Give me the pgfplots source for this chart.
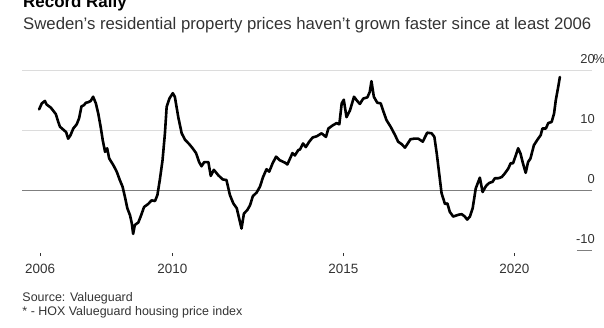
\documentclass[border=0pt]{standalone}
\usepackage{fontspec}
\setmainfont{Liberation Sans}
\usepackage{pgfplots}
\pgfplotsset{compat=1.18}
\definecolor{txt}{HTML}{333333}
\definecolor{gridc}{HTML}{DCDCDC}
\definecolor{zeroc}{HTML}{7F7F7F}
\begin{document}
\begin{tikzpicture}[x=1bp,y=1bp]
\path[use as bounding box] (0,0) rectangle (604,327);
\node[anchor=base west, inner sep=0pt, font=\fontsize{17}{20}\selectfont\bfseries] at (23,320) {Record Rally};
\node[anchor=base west, inner sep=0pt, text=txt, font=\fontsize{16.8}{20}\selectfont] at (23,298) {Sweden's residential property prices haven't grown faster since at least 2006};
\node[anchor=base west, inner sep=0pt, text=txt, font=\fontsize{12.5}{15}\selectfont] at (22.3,25.3) {Source: Valueguard};
\node[anchor=base west, inner sep=0pt, text=txt, font=\fontsize{12.5}{15}\selectfont] at (22.3,12) {* - HOX Valueguard housing price index};
\begin{axis}[
  at={(22bp,73.9bp)}, anchor=south west,
  scale only axis, width=570bp, height=182.1bp,
  xmin=2005.6, xmax=2022.27, ymin=-10.4, ymax=20,
  axis line style={draw=none},
  clip=false,
  /pgf/number format/assume math mode=true,
  xtick={2006.13,2010,2015,2020},
  xticklabels={2006,2010,2015,2020},
  xtick pos=bottom,
  tick align=outside,
  major tick length=3bp,
  xtick style={draw=txt, line width=0.8bp},
  xticklabel style={text=txt, font=\fontsize{13.5}{16}\selectfont, anchor=base, inner sep=0pt, yshift=-17.4bp},
  ytick={-10,0,10,20},
  yticklabels={-10,0,10,20\rlap{\kern-1.5bp\%}},
  ytick style={draw=none},
  yticklabel pos=right,
  yticklabel style={text=txt, font=\fontsize{13}{16}\selectfont, anchor=base east, inner sep=0pt, yshift=7.3bp},
]
\draw[gridc, line width=1bp] (axis cs:2005.6,10) -- (axis cs:2022.27,10);
\draw[gridc, line width=1bp] (axis cs:2005.6,20) -- (axis cs:2022.27,20);
\draw[zeroc, line width=1bp] (axis cs:2005.6,0) -- (axis cs:2022.27,0);
\draw[zeroc, line width=1bp] (axis cs:2021.83,-10) -- (axis cs:2022.27,-10);
\addplot[black, line width=2.6bp, line join=round, line cap=round] coordinates {
(2006.10,13.6) (2006.18,14.6) (2006.27,15.0) (2006.32,14.4) (2006.44,13.9) (2006.51,13.4)
(2006.59,12.8) (2006.66,11.5) (2006.71,10.7) (2006.81,10.2) (2006.89,9.8) (2006.95,8.7)
(2007.02,9.3) (2007.10,10.4) (2007.20,11.1) (2007.27,12.1) (2007.34,14.1) (2007.41,14.3)
(2007.47,14.7) (2007.54,14.8) (2007.61,15.0) (2007.68,15.7) (2007.76,14.6) (2007.83,12.9)
(2007.90,10.7) (2007.96,8.5) (2008.03,6.5) (2008.09,7.1) (2008.15,5.4) (2008.27,4.3)
(2008.37,3.2) (2008.46,1.8) (2008.54,0.7) (2008.61,-1.0) (2008.68,-2.9) (2008.76,-4.1)
(2008.81,-5.4) (2008.85,-7.2) (2008.90,-5.7) (2009.00,-5.3) (2009.07,-4.3) (2009.17,-2.7)
(2009.29,-2.2) (2009.39,-1.6) (2009.49,-1.7) (2009.56,-0.7) (2009.63,1.8) (2009.71,5.1)
(2009.78,9.6) (2009.83,14.0) (2009.91,15.4) (2010.01,16.3) (2010.07,15.7) (2010.17,12.3)
(2010.27,9.6) (2010.37,8.5) (2010.49,7.8) (2010.59,7.1) (2010.69,6.3) (2010.78,4.8)
(2010.85,4.1) (2010.93,4.8) (2011.05,4.8) (2011.12,2.5) (2011.21,3.5) (2011.34,2.6)
(2011.47,1.9) (2011.58,1.8) (2011.68,-0.7) (2011.78,-2.1) (2011.88,-2.9) (2011.95,-4.6)
(2012.02,-6.3) (2012.09,-3.8) (2012.19,-3.2) (2012.27,-2.4) (2012.35,-0.9) (2012.46,-0.3)
(2012.56,0.7) (2012.65,2.3) (2012.75,3.6) (2012.83,3.2) (2012.93,4.6) (2013.03,5.7)
(2013.14,5.1) (2013.29,4.7) (2013.36,4.4) (2013.44,5.4) (2013.51,6.3) (2013.58,5.9)
(2013.68,6.8) (2013.73,6.9) (2013.82,7.9) (2013.90,7.3) (2014.00,8.2) (2014.10,8.9)
(2014.22,9.1) (2014.36,9.6) (2014.49,9.0) (2014.56,10.4) (2014.68,10.9) (2014.80,11.3)
(2014.88,11.1) (2014.95,14.6) (2015.01,15.2) (2015.09,12.3) (2015.19,13.4) (2015.31,15.7)
(2015.39,15.1) (2015.48,14.5) (2015.58,15.4) (2015.70,15.6) (2015.77,16.5) (2015.82,18.3)
(2015.89,15.7) (2015.99,14.7) (2016.09,14.6) (2016.16,13.4) (2016.26,11.8) (2016.38,10.7)
(2016.51,9.3) (2016.60,8.2) (2016.70,7.8) (2016.80,7.2) (2016.87,7.8) (2016.96,8.6)
(2017.06,8.7) (2017.19,8.7) (2017.32,8.2) (2017.45,9.7) (2017.58,9.6) (2017.66,9.0)
(2017.73,6.2) (2017.80,2.9) (2017.87,-0.4) (2017.97,-2.2) (2018.04,-2.1) (2018.11,-3.5)
(2018.21,-4.3) (2018.36,-4.0) (2018.46,-3.9) (2018.55,-4.3) (2018.62,-4.8) (2018.70,-4.3)
(2018.78,-2.9) (2018.87,0.4) (2018.99,2.2) (2019.07,-0.2) (2019.17,0.8) (2019.26,1.3)
(2019.36,1.5) (2019.43,2.1) (2019.53,2.1) (2019.63,2.3) (2019.72,2.9) (2019.82,3.7)
(2019.89,4.6) (2019.96,4.6) (2020.04,5.9) (2020.11,7.1) (2020.18,6.2) (2020.25,4.6)
(2020.33,3.0) (2020.40,4.8) (2020.47,5.4) (2020.57,7.6) (2020.67,8.5) (2020.77,9.3)
(2020.82,10.4) (2020.92,10.4) (2020.99,11.3) (2021.09,11.5) (2021.16,12.9) (2021.21,15.1)
(2021.28,17.3) (2021.33,19.0)
};
\end{axis}
\end{tikzpicture}
\end{document}
